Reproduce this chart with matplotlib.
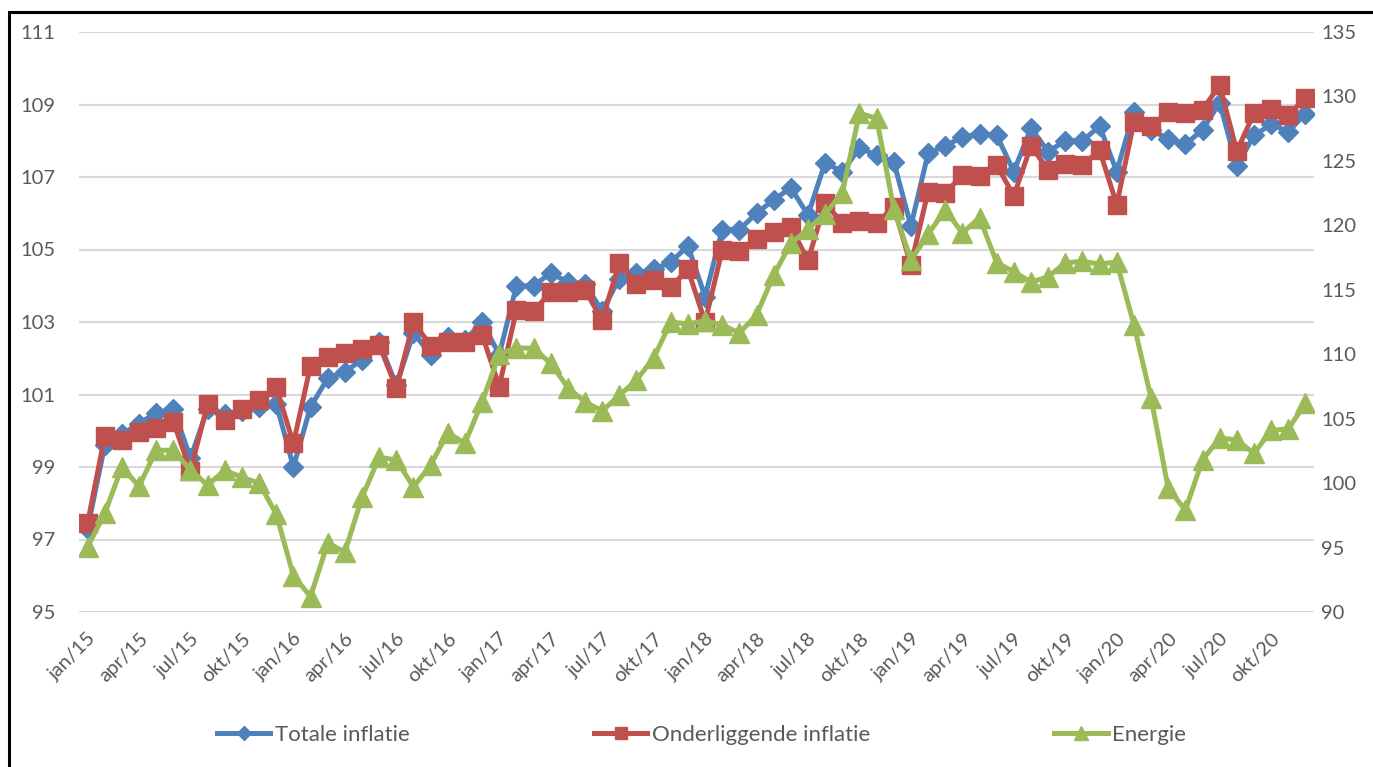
import matplotlib
matplotlib.use("Agg")
import matplotlib.pyplot as plt
from matplotlib.patches import Rectangle

plt.rcParams['font.family'] = ['Lato', 'DejaVu Sans']

months = ["jan", "feb", "mrt", "apr", "mei", "jun", "jul", "aug", "sep", "okt", "nov", "dec"]
years = ["15", "16", "17", "18", "19", "20"]
categories = [f"{m}/{y}" for y in years for m in months]
tick_labels = [c for i, c in enumerate(categories) if i % 3 == 0]

totale = [97.3, 99.6, 99.9, 100.2, 100.5, 100.6, 99.25, 100.6, 100.45, 100.55, 100.65, 100.75,
          99.0, 100.66, 101.45, 101.63, 101.95, 102.45, 101.25, 102.7, 102.1, 102.6, 102.5, 103.0,
          102.1, 104.0, 104.0, 104.35, 104.1, 104.05, 103.3, 104.2, 104.35, 104.45, 104.65, 105.1,
          103.7, 105.55, 105.55, 106.0, 106.37, 106.7, 105.95, 107.4, 107.14, 107.8, 107.6, 107.42,
          105.65, 107.65, 107.86, 108.1, 108.2, 108.15, 107.15, 108.35, 107.7, 108.0, 108.0, 108.4,
          107.15, 108.8, 108.3, 108.05, 107.9, 108.3, 109.05, 107.3, 108.15, 108.45, 108.25, 108.75]

onderliggend = [97.45, 99.85, 99.75, 99.97, 100.07, 100.25, 98.9, 100.75, 100.3, 100.6, 100.85, 101.2,
                99.65, 101.8, 102.03, 102.15, 102.25, 102.37, 101.18, 103.0, 102.35, 102.45, 102.45, 102.65,
                101.22, 103.33, 103.3, 103.83, 103.83, 103.88, 103.05, 104.63, 104.05, 104.15, 103.97, 104.45,
                103.0, 104.99, 104.96, 105.3, 105.48, 105.62, 104.7, 106.28, 105.73, 105.8, 105.72, 106.18,
                104.57, 106.6, 106.56, 107.05, 107.03, 107.33, 106.48, 107.86, 107.19, 107.37, 107.33, 107.74,
                106.24, 108.52, 108.41, 108.79, 108.76, 108.85, 109.54, 107.71, 108.76, 108.88, 108.71, 109.18]

energie = [95.05, 97.65, 101.25, 99.75, 102.55, 102.55, 101.0, 99.85, 101.0, 100.45, 100.0, 97.6,
           92.8, 91.2, 95.35, 94.65, 98.9, 102.0, 101.8, 99.7, 101.4, 103.9, 103.1, 106.3,
           110.0, 110.5, 110.45, 109.3, 107.4, 106.3, 105.6, 106.8, 108.0, 109.7, 112.5, 112.35,
           112.6, 112.27, 111.64, 113.04, 116.14, 118.6, 119.7, 120.9, 122.5, 128.7, 128.3, 121.3,
           117.3, 119.3, 121.2, 119.4, 120.6, 117.1, 116.4, 115.6, 116.0, 117.1, 117.2, 117.0,
           117.15, 112.3, 106.6, 99.6, 97.9, 101.8, 103.5, 103.35, 102.3, 104.1, 104.2, 106.2]

left_ticks = [95, 97, 99, 101, 103, 105, 107, 109, 111]
right_ticks = [90, 95, 100, 105, 110, 115, 120, 125, 130, 135]

BLUE = "#4F81BD"
RED = "#C0504D"
GREEN = "#9BBB59"
TXT = "#595959"

fig = plt.figure(figsize=(13.73, 7.67), dpi=100)
ax = fig.add_axes([79 / 1373, 1 - 612 / 767, (1314 - 79) / 1373, (612 - 32) / 767])
ax2 = ax.twinx()

x = list(range(len(categories)))
l1, = ax.plot(x, totale, color=BLUE, lw=3.6, marker="D", markersize=10, label="Totale inflatie")
l2, = ax.plot(x, onderliggend, color=RED, lw=3.6, marker="s", markersize=13, label="Onderliggende inflatie")
l3, = ax2.plot(x, energie, color=GREEN, lw=3.6, marker="^", markersize=14, label="Energie")

ax.set_xlim(-0.5, len(categories) - 0.5)
ax.set_ylim(95, 111)
ax2.set_ylim(90, 135)
ax.set_yticks(left_ticks)
ax2.set_yticks(right_ticks)
ax.set_xticks([i for i in x if i % 3 == 0])
ax.set_xticklabels(tick_labels, rotation=45, ha="right", rotation_mode="anchor")

ax.grid(axis="y", color="#D9D9D9", lw=1.5)
ax.set_axisbelow(True)
for a in (ax, ax2):
    for s in a.spines.values():
        s.set_visible(False)
    a.tick_params(length=0, colors=TXT, labelsize=14.5)
ax.tick_params(axis="y", pad=17)
ax2.tick_params(axis="y", pad=5)
ax.tick_params(axis="x", pad=13)

fig.legend(handles=[l1, l2, l3], loc="center", bbox_to_anchor=(0.511, 1 - 735 / 767), ncol=3,
           frameon=False, fontsize=16, handlelength=2.4, handletextpad=0.2, columnspacing=8.3,
           labelcolor=TXT, markerscale=0.7)

fig.add_artist(Rectangle((9 / 1373, -0.05), 1.2, 1 - 12 / 767 + 0.05, transform=fig.transFigure,
                         fill=False, edgecolor="black", lw=2.2))

fig.savefig("out.png", dpi=100)
